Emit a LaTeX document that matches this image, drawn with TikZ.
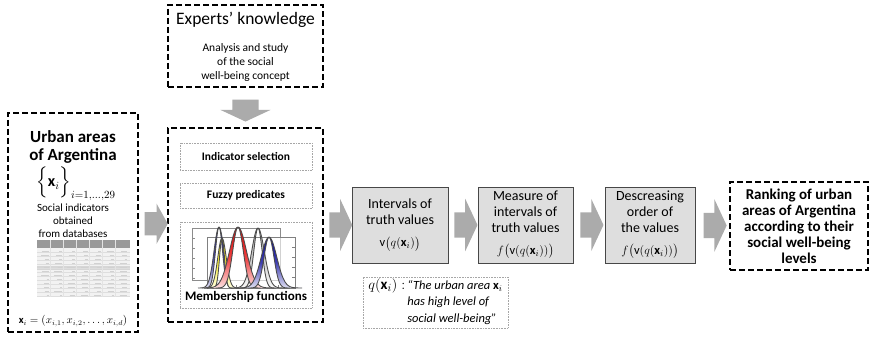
\documentclass[tikz,border=0pt]{standalone}
\usepackage{amsmath}
\usepackage{fontspec}
\setmainfont{Carlito}
\usetikzlibrary{shapes.arrows, positioning, calc}

\begin{document}
\begin{tikzpicture}[x=1pt,y=-1pt,
 dash box/.style={draw, line width=2.2pt, dash pattern=on 6pt off 3pt, inner sep=0pt},
 dot box/.style={draw=black!35, densely dotted, line width=0.6pt, inner sep=0pt},
 step box/.style={draw=black!72, fill=black!13, line width=1pt, minimum height=76pt,
   align=center, inner sep=1pt, font=\fontsize{14}{16}\selectfont},
 block arrow/.style={single arrow, fill=black!33, inner xsep=0pt, inner ysep=12.5pt,
   minimum height=23pt, single arrow head extend=13.5pt, single arrow tip angle=130},
 sub/.style={align=center, inner sep=0pt}]

 \useasboundingbox (0,0) rectangle (873,342);

 % outer boxes
 \node[dash box, minimum width=130pt, minimum height=219pt] (urban) at (73,222.5) {};
 \node[dash box, minimum width=155pt, minimum height=82pt] (experts) at (245.5,46) {};
 \node[dash box, minimum width=155pt, minimum height=194pt] (method) at (245.5,225) {};
 \node[step box, minimum width=96pt] (intervals) at (400,225)
   {Intervals of\\truth values\\[6pt]{\fontsize{12.5}{12.5}\selectfont$\mathrm{v}\bigl(q(\mathbf{x}_i)\bigr)$}};
 \node[step box, minimum width=95pt] (measure) at (525.5,225)
   {Measure of\\intervals of\\truth values\\[6pt]{\fontsize{12.5}{12.5}\selectfont$f\bigl(\mathrm{v}(q(\mathbf{x}_i))\bigr)$}};
 \node[step box, minimum width=90pt] (order) at (650,225)
   {Descreasing\\order of\\the values\\[6pt]{\fontsize{12.5}{12.5}\selectfont$f\bigl(\mathrm{v}(q(\mathbf{x}_i))\bigr)$}};
 \node[dash box, minimum width=138pt, minimum height=88pt, align=center,
   font=\fontsize{15}{16}\selectfont\bfseries] (ranking) at (799,226)
   {Ranking of urban\\areas of Argentina\\according to their\\social well-being\\levels};

 % urban areas
 \node[sub, font=\fontsize{17}{17.5}\selectfont\bfseries] (title) at (73,147)
   {Urban areas\\of Argentina};
 \node[sub, font=\fontsize{16}{16}\selectfont] (set) at (76,184)
   {$\Bigl\{\mathbf{x}_i\Bigr\}_{i=1,\dots,29}$};
 \node[sub, font=\fontsize{11}{13}\selectfont] (social) at (73,221)
   {Social indicators\\obtained\\from databases};
 \fill[black!5] (37,240) rectangle (130,297);
 \fill[black!40] (37,240) rectangle (130,248);
 \fill[black!16] (37,266) rectangle (130,270);
 \foreach \y in {252,256,...,296}
   \draw[black!13, line width=0.4pt] (37,\y) -- (130,\y);
 \foreach \x in {50,63,76,89,102,115}
   \draw[black!11, line width=0.4pt] (\x,240) -- (\x,297);
 \pgfmathsetseed{7}
 \foreach \y in {250,254,...,294}
   \foreach \x in {40,53,66,79,92,105,118}
     {\pgfmathsetmacro{\w}{2+6*rnd}
      \draw[black!18, line width=0.9pt] (\x+9-\w,\y+1) -- (\x+9,\y+1);}
 \node[sub, font=\fontsize{10.5}{11}\selectfont] (vector) at (73,321)
   {$\mathbf{x}_i = (x_{i,1}, x_{i,2}, \dots, x_{i,d})$};

 % experts
 \node[sub, font=\fontsize{17.5}{18}\selectfont] (etitle) at (245.5,20) {Experts' knowledge};
 \node[sub, font=\fontsize{11.5}{14}\selectfont] (etext) at (245.5,62)
   {Analysis and study\\of the social\\well-being concept};

 % methodology
 \node[dot box, minimum width=132pt, minimum height=27pt, font=\fontsize{11.5}{12}\selectfont\bfseries]
   (select) at (246,156.5) {Indicator selection};
 \node[dot box, minimum width=132pt, minimum height=25pt, font=\fontsize{11.5}{12}\selectfont\bfseries]
   (fuzzy) at (246,195.5) {Fuzzy predicates};
 \node[dot box, minimum width=132pt, minimum height=86pt] (memb) at (246,265) {};
 % membership plot: bands between an upper and a lower curve
 \draw[black!45, line width=0.5pt] (192,228) rectangle (280,280);
 \foreach \y in {238,248,...,278} \draw[black!45, line width=0.4pt] (192,\y) -- (195,\y);
 \fill[white, opacity=0.6] (207,237) rectangle (295,288);
 \draw[black!50, line width=0.5pt] (207,237) rectangle (295,288);
 \foreach \y in {247,257,...,287} \draw[black!50, line width=0.4pt] (295,\y) -- (292,\y);
 \foreach \x in {215,236,257,278} \draw[black!50, line width=0.4pt] (\x,288) -- (\x,285);
 \foreach \c/\m/\so/\si/\h in {blue!60!black/219/7/5/61, yellow!90!orange/222/6/3.5/50,
     black!25/258/9/6/60, red!90!black/238/12/7.5/61, blue!60!black/269/11/7/51}
   {\colorlet{band}{\c}
    \pgfmathsetmacro{\lo}{\m-3*\so}\pgfmathsetmacro{\hi}{\m+3*\so}
    \pgfmathsetmacro{\li}{\m-3*\si}\pgfmathsetmacro{\hii}{\m+3*\si}
    \shade[top color=band, bottom color=band!12, middle color=band!75]
      plot[domain=\lo:\hi, samples=40, smooth] (\x,{288-\h*exp(-((\x-\m)/\so)^2)})
      -- plot[domain=\hii:\li, samples=40, smooth] (\x,{288-\h*exp(-((\x-\m)/\si)^2)}) -- cycle;
    \draw[black!70, line width=0.9pt]
      plot[domain=\lo:\hi, samples=40, smooth] (\x,{288-\h*exp(-((\x-\m)/\so)^2)});
    \draw[black!70, line width=0.9pt]
      plot[domain=\li:\hii, samples=40, smooth] (\x,{288-\h*exp(-((\x-\m)/\si)^2)});}
 \node[sub, fill=white, inner ysep=1pt, font=\fontsize{13}{13}\selectfont\bfseries]
   (mlabel) at (246,297) {Membership functions};

 % predicate
 \node[dot box, minimum width=145pt, minimum height=51pt] (qdef) at (435.5,302.5) {};
 \node[sub, font=\fontsize{12.5}{16.5}\selectfont\itshape] (qtext) at (qdef)
   {\begin{tabular}{@{}r@{\,}l@{}}
     {\fontsize{15}{15}\selectfont$q(\mathbf{x}_i):$} & ``The urban area $\mathbf{x}_i$\\
     & has high level of\\
     & social well-being''
   \end{tabular}};

 % arrows
 \node[block arrow, inner ysep=11.5pt, single arrow head extend=8.5pt, single arrow tip angle=122]
   at ($(urban.east)!0.5!(method.west)$) {};
 \node[block arrow, minimum height=22pt, inner ysep=13pt, single arrow head extend=12pt,
   rotate=-90] at ($(experts.south)!0.5!(method.north)$) {};
 \foreach \s/\t in {method/intervals, intervals/measure, measure/order, order/ranking}
   \node[block arrow] at ($(\s.east)!0.5!(\t.west)$) {};

\end{tikzpicture}
\end{document}
